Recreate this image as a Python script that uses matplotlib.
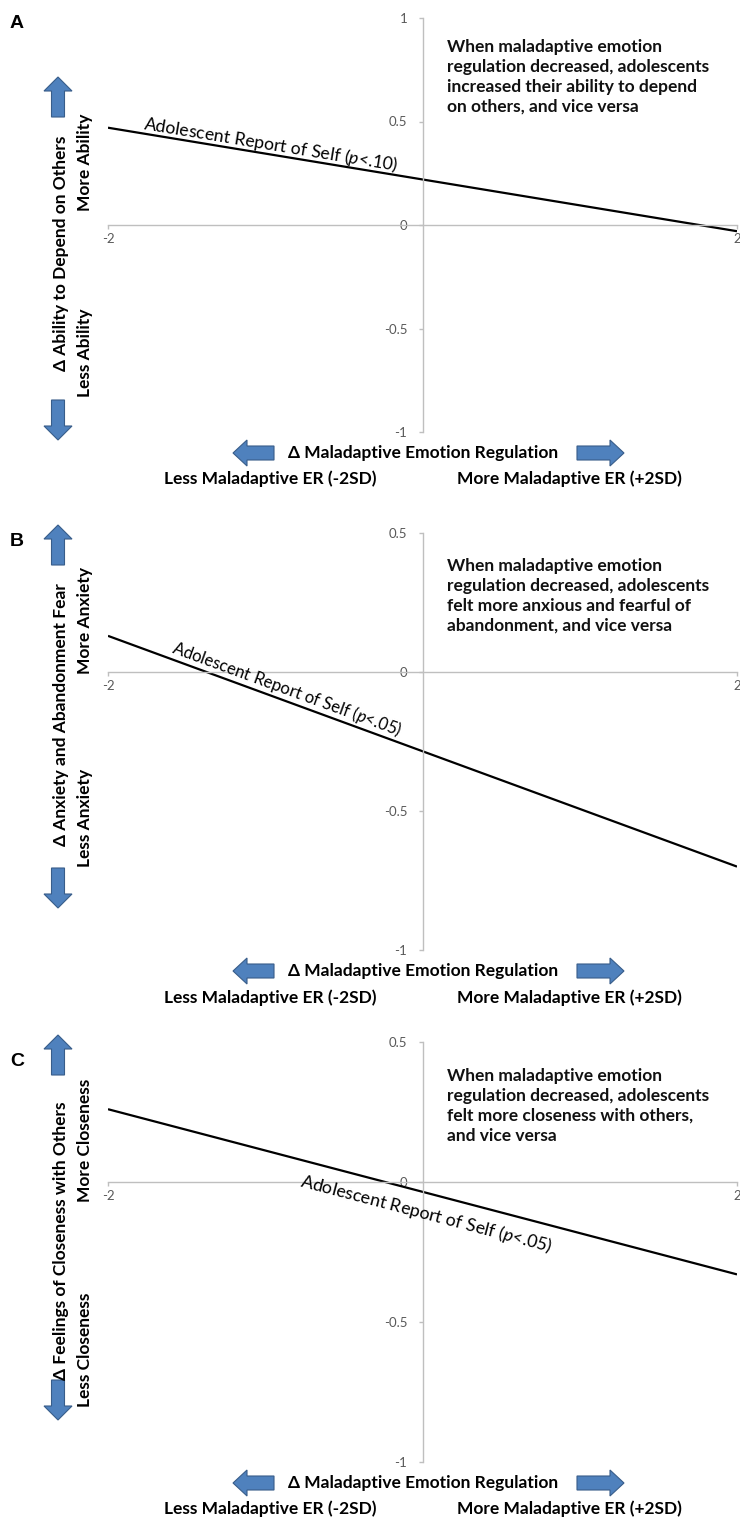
import numpy as np
import matplotlib
matplotlib.use("Agg")
import matplotlib.pyplot as plt
from matplotlib.patches import FancyArrow

plt.rcParams['font.family'] = ['Lato', 'DejaVu Sans']
plt.rcParams['mathtext.fontset'] = 'custom'
plt.rcParams['mathtext.it'] = 'Lato:italic'
plt.rcParams['mathtext.rm'] = 'Lato'

# --- data (simple slopes, -2SD to +2SD) ---
x_er = [-2, 2]
ability = [0.47, -0.03]
anxiety = [0.13, -0.70]
closeness = [0.26, -0.33]

yticks_a = [-1, -0.5, 0, 0.5, 1]
yticks_bc = [-1, -0.5, 0, 0.5]

line_labels = [r"Adolescent Report of Self ($\it{p}$<.10)",
               r"Adolescent Report of Self ($\it{p}$<.05)",
               r"Adolescent Report of Self ($\it{p}$<.05)"]
y_titles = ["Δ Ability to Depend on Others",
            "Δ Anxiety and Abandonment Fear",
            "Δ Feelings of Closeness with Others"]
more_labels = ["More Ability", "More Anxiety", "More Closeness"]
less_labels = ["Less Ability", "Less Anxiety", "Less Closeness"]
notes = ["When maladaptive emotion\nregulation decreased, adolescents\nincreased their ability to depend\non others, and vice versa",
         "When maladaptive emotion\nregulation decreased, adolescents\nfelt more anxious and fearful of\nabandonment, and vice versa",
         "When maladaptive emotion\nregulation decreased, adolescents\nfelt more closeness with others,\nand vice versa"]

W, H = 740, 1518
fig = plt.figure(figsize=(W / 100, H / 100), dpi=100)

BLUE, BLUE_EDGE = "#4F81BD", "#385D8A"
GRID = "#BFBFBF"
TICKC = "#595959"


def px_axes(top, bottom):
    return [108 / W, 1 - bottom / H, (737 - 108) / W, (bottom - top) / H]


def draw_panel(rect, yvals, yticks, ylim, label, label_x, label_off, label_va, label_fs):
    ax = fig.add_axes(rect)
    ax.plot(x_er, yvals, color="black", lw=1.6, solid_capstyle="butt")
    ax.set_xlim(-2, 2)
    ax.set_ylim(*ylim)
    for s in ["top", "right"]:
        ax.spines[s].set_visible(False)
    ax.spines["left"].set_position(("data", 0))
    ax.spines["bottom"].set_position(("data", 0))
    for s in ["left", "bottom"]:
        ax.spines[s].set_color(GRID)
        ax.spines[s].set_linewidth(1.0)
    ax.set_xticks([-2, 2])
    ax.set_xticklabels(["-2", "2"])
    ax.set_yticks(yticks)
    ax.set_yticklabels([f"{t:g}" for t in yticks])
    ax.tick_params(axis="both", colors=GRID, labelcolor=TICKC, labelsize=9.5,
                   length=3, width=1, direction="out")
    ax.tick_params(axis="y", pad=8)
    ax.tick_params(axis="x", pad=3)
    ax.patch.set_alpha(0)
    # label along the line
    slope = (yvals[1] - yvals[0]) / (x_er[1] - x_er[0])
    ly = yvals[0] + slope * (label_x - x_er[0]) + label_off
    ang = np.degrees(np.arctan(slope))
    ax.text(label_x, ly, label, rotation=ang, transform_rotates_text=True,
            rotation_mode="anchor", ha="left", va=label_va, fontsize=label_fs)
    return ax


axA = draw_panel(px_axes(18, 432), ability, yticks_a, (-1, 1), line_labels[0], -1.78, 0.02, "baseline", 12.7)
axB = draw_panel(px_axes(533, 950), anxiety, yticks_bc, (-1, 0.5), line_labels[1], -1.6, 0.025, "baseline", 12.0)
axC = draw_panel(px_axes(1042, 1462), closeness, yticks_bc, (-1, 0.5), line_labels[2], -0.76, -0.035, "top", 12.8)

# overlay in pixel units for arrows and side text
ov = fig.add_axes([0, 0, 1, 1])
ov.set_xlim(0, W)
ov.set_ylim(H, 0)
ov.axis("off")
ov.patch.set_alpha(0)


def varrow(x, y0, y1):
    ov.add_patch(FancyArrow(x, y0, 0, y1 - y0, width=13, head_width=28, head_length=14,
                            length_includes_head=True, fc=BLUE, ec=BLUE_EDGE, lw=0.8))


def harrow(y, x0, x1):
    ov.add_patch(FancyArrow(x0, y, x1 - x0, 0, width=14, head_width=26, head_length=14,
                            length_includes_head=True, fc=BLUE, ec=BLUE_EDGE, lw=0.8))


panels = [
    # letter_y, up arrow (y0,y1), down arrow, title_y, more_y, less_y, note_y, xlab_y, sub_y
    dict(letter=("A", 24), up=(117, 77), down=(400, 440), title=253, more=162, less=353,
         note=77, xlab=453, sub=479),
    dict(letter=("B", 541), up=(565, 525), down=(868, 908), title=715, more=620, less=818,
         note=596, xlab=971, sub=998),
    dict(letter=("C", 1061), up=(1075, 1035), down=(1380, 1420), title=1241, more=1140, less=1350,
         note=1106, xlab=1483, sub=1509),
]

for i, p in enumerate(panels):
    ov.text(10, p["letter"][1], p["letter"][0], fontsize=14, fontweight="bold",
            family="Liberation Sans", ha="left", va="center")
    varrow(58, *p["up"])
    varrow(58, *p["down"])
    ov.text(61, p["title"], y_titles[i], rotation=90, fontsize=12.5, fontweight="bold",
            ha="center", va="center")
    ov.text(85, p["more"], more_labels[i], rotation=90, fontsize=12.5, fontweight="bold",
            ha="center", va="center")
    ov.text(85, p["less"], less_labels[i], rotation=90, fontsize=12.5, fontweight="bold",
            ha="center", va="center")
    ov.text(447, p["note"], notes[i], fontsize=12.5, fontweight="bold", ha="left",
            va="center", linespacing=1.3, color="#111111")
    harrow(p["xlab"], 274, 233)
    harrow(p["xlab"], 577, 624)
    ov.text(423, p["xlab"], "Δ Maladaptive Emotion Regulation", fontsize=12.5,
            fontweight="bold", ha="center", va="center")
    ov.text(377, p["sub"], "Less Maladaptive ER (-2SD)", fontsize=12.5,
            fontweight="bold", ha="right", va="center")
    ov.text(457, p["sub"], "More Maladaptive ER (+2SD)", fontsize=12.5,
            fontweight="bold", ha="left", va="center")

fig.savefig("out.png", dpi=100, facecolor="white")
